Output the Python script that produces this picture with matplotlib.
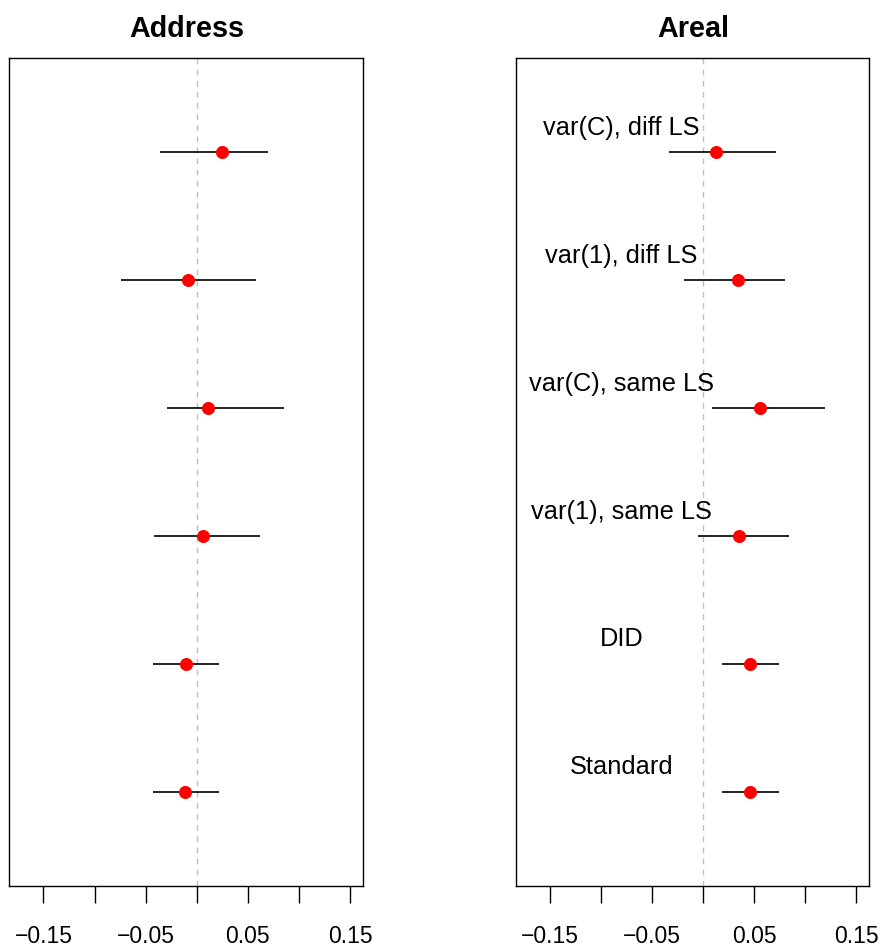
import matplotlib
matplotlib.use("Agg")
import matplotlib.pyplot as plt

panel_titles = ["Address", "Areal"]
methods = ["Standard", "DID", "var(1), same LS", "var(C), same LS",
           "var(1), diff LS", "var(C), diff LS"]
rows = [1, 2, 3, 4, 5, 6]

addr_est = [-0.0114, -0.0108, 0.0059, 0.0114, -0.0082, 0.0245]
addr_lo = [-0.0424, -0.0424, -0.0418, -0.0294, -0.0744, -0.0359]
addr_hi = [0.0215, 0.0221, 0.0616, 0.0854, 0.0577, 0.0695]

areal_est = [0.0464, 0.0460, 0.0352, 0.0558, 0.0346, 0.0127]
areal_lo = [0.0180, 0.0180, -0.0052, 0.0088, -0.0186, -0.0336]
areal_hi = [0.0744, 0.0744, 0.0845, 0.1200, 0.0806, 0.0718]

xticks = [-0.15, -0.10, -0.05, 0.0, 0.05, 0.10, 0.15]
xticklabels = ["\u22120.15", "", "\u22120.05", "", "0.05", "", "0.15"]

plt.rcParams['font.family'] = ['Liberation Sans', 'DejaVu Sans']

W, H = 884, 947
fig = plt.figure(figsize=(W / 100, H / 100), dpi=100)

ax_pos = [(9.3, 363.3), (516.3, 869.3)]
top_px, bot_px = 58.0, 885.7

data = [(addr_est, addr_lo, addr_hi), (areal_est, areal_lo, areal_hi)]

for i, (x0, x1) in enumerate(ax_pos):
    ax = fig.add_axes([x0 / W, 1 - bot_px / H, (x1 - x0) / W, (bot_px - top_px) / H])
    est, lo, hi = data[i]
    ax.axvline(0, color="#BEBEBE", lw=1.0, linestyle=(0, (4, 4)), zorder=1)
    ax.hlines(rows, lo, hi, colors="black", lw=1.2, zorder=2)
    ax.plot(est, rows, "o", color="red", markersize=9.4, markeredgewidth=0, zorder=3)
    if i == 1:
        for r, m in zip(rows, methods):
            ax.text(-0.08, r + 0.19, m, ha="center", va="center", fontsize=18.3)
    ax.set_xlim(-0.1834, 0.163)
    ax.set_ylim(0.266, 6.734)
    ax.set_yticks([])
    ax.set_xticks(xticks)
    ax.set_xticklabels(xticklabels, fontsize=16.5)
    ax.tick_params(axis="x", direction="out", length=12, width=1.0, pad=16)
    for s in ax.spines.values():
        s.set_linewidth(1.0)
    fig.text((x0 + x1) / 2 / W, 1 - 36.7 / H, panel_titles[i], ha="center",
             va="baseline", fontsize=20.7, fontweight="bold")

fig.savefig("out.png", dpi=100)
